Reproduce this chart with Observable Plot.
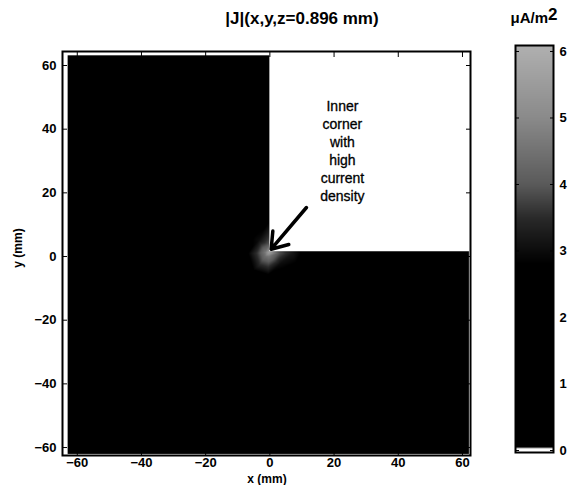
<!DOCTYPE html>
<html>
<head>
<meta charset="utf-8">
<script src="https://cdn.jsdelivr.net/npm/d3@7"></script>
<script src="https://cdn.jsdelivr.net/npm/@observablehq/plot@0.6"></script>
<style>
  html, body { margin: 0; padding: 0; background: #fff; }
  #wrap { position: relative; width: 572px; height: 485px; font-family: "Liberation Sans", Arial, sans-serif; }
  #main { position: absolute; left: 0; top: 0; }
  #cbar { position: absolute; left: 500px; top: 0; }
  .lbl { position: absolute; font-weight: bold; color: #000; white-space: nowrap; line-height: 1; }
</style>
</head>
<body>
<div id="wrap">
  <div id="main"></div>
  <div id="cbar"></div>
  <div class="lbl" id="title" style="left:302px; top:10px; font-size:17px; transform:translateX(-50%);">|J|(x,y,z=0.896 mm)</div>
  <div class="lbl" id="unit" style="left:534px; top:9px; font-size:15px; transform:translateX(-50%);">μA/m<span style="font-size:17px; position:relative; top:-3px;">2</span></div>
  <div class="lbl" id="xlab" style="left:267px; top:473px; font-size:12px; transform:translateX(-50%);">x (mm)</div>
  <div class="lbl" id="ylab" style="left:18px; top:248px; font-size:12px; transform:translate(-50%,-50%) rotate(-90deg);">y (mm)</div>
</div>
<script>
// Tick labels
const xTicks = [-60, -40, -20, 0, 20, 40, 60];
const yTicks = [-60, -40, -20, 0, 20, 40, 60];
const cbarTicks = [0, 1, 2, 3, 4, 5, 6];

const sampleX = [-63, 62, -63, 0, 62, -63, 0, -30, -30, 30, -30, 30, 30, 62, 0,
                 -12, -10, 0, 10, 18, -6, -0.4, -12,
                 -0.3, -1.5, -0.3, -1.5, -0.4, -0.4, -0.4, 3, 7, 11, -4, -7.5, -0.5, -0.5, -3.5, -6, 3, -3.5];
const sampleY = [-62, -62, 63.2, 63.2, 1.5, 0, -62, -30, 30, -30, 63.2, 30, 63.2, 63.2, 30,
                 -2, -10, -12, -8, 1, 16, 20, 10,
                 1.2, 1.3, 0, 0, 4, 8, 12, 1.0, 1.0, 1.0, 1, 1, -3, -6, -3, -5, -2.5, 5];
const sampleJ = [1.2, 1.2, 1.2, 1.2, 1.2, 1.4, 1.2, 1.2, 1.2, 1.2, 1.2, 1.2, 1.2, 1.2, 1.2,
                 2.0, 2.0, 2.0, 2.0, 2.0, 2.0, 2.0, 2.0,
                 5.6, 4.6, 4.6, 4.4, 3.9, 3.2, 2.6, 3.9, 3.2, 2.6, 3.6, 2.6, 3.6, 2.7, 3.3, 2.5, 3.0, 3.0];

// Conductor extent and the empty (no conductor) quadrant
const conductor = {x1: -63, x2: 62, y1: -62, y2: 63.2};
const cutout = [{x1: 0, x2: 62.5, y1: 1.5, y2: 64.4}];

// Annotation
const noteLines = ["Inner", "corner", "with", "high", "current", "density"];
const note = [{x: 22.6, y: 33.3, text: noteLines.join("\n")}];
const arrowData = [{x1: 11.4, y1: 15.4, x2: 0.4, y2: 2.3}];

// Colour map (grey scale, white at zero)
const colorDomain = [0, 0.03, 0.05, 2.8, 3.5, 4, 5, 6];
const colorRange = ["#ffffff", "#ffffff", "#000000", "#000000", "#2a2a2a", "#5a5a5a", "#8a8a8a", "#adadad"];

const samples = sampleX.map((x, i) => ({x, y: sampleY[i], j: sampleJ[i]}));

const colorScale = {type: "linear", domain: colorDomain, range: colorRange, clamp: true};
const tickStyle = {fontSize: 13, fontWeight: "bold", fontFamily: "Liberation Sans, Arial, sans-serif"};

const main = Plot.plot({
  width: 500, height: 485,
  marginLeft: 62, marginRight: 30, marginTop: 51, marginBottom: 30,
  x: {domain: [-64.6, 62.5]},
  y: {domain: [-62.5, 64.4]},
  color: colorScale,
  style: {background: "#fff", color: "#000"},
  marks: [
    Plot.raster(samples, {
      x: "x", y: "y", fill: "j", interpolate: "barycentric",
      x1: conductor.x1, x2: conductor.x2, y1: conductor.y1, y2: conductor.y2
    }),
    Plot.rect(cutout, {x1: "x1", x2: "x2", y1: "y1", y2: "y2", fill: "white"}),
    Plot.text(note, {x: "x", y: "y", text: "text", fontSize: 14, lineHeight: 1.29, fill: "#000",
      fontFamily: "Liberation Sans, Arial, sans-serif", stroke: "#000", strokeWidth: 0.3}),
    Plot.arrow(arrowData, {x1: "x1", y1: "y1", x2: "x2", y2: "y2", stroke: "#000", strokeWidth: 3.5,
      headLength: 13, headAngle: 70}),
    Plot.frame({stroke: "#000", strokeWidth: 2}),
    Plot.axisX(xTicks, {anchor: "bottom", tickSize: -5, tickPadding: 7, label: null, ...tickStyle}),
    Plot.axisX(xTicks, {anchor: "top", tickSize: -5, tickFormat: () => "", label: null}),
    Plot.axisY(yTicks, {anchor: "left", tickSize: -5, tickPadding: 11, label: null, ...tickStyle}),
    Plot.axisY(yTicks, {anchor: "right", tickSize: -5, tickFormat: () => "", label: null})
  ]
});
document.getElementById("main").appendChild(main);

const cbar = Plot.plot({
  width: 72, height: 485,
  marginLeft: 15, marginRight: 19, marginTop: 45, marginBottom: 33,
  x: {domain: [0, 1], axis: null},
  y: {domain: [-0.03, 6.09]},
  color: colorScale,
  style: {background: "#fff", color: "#000"},
  marks: [
    Plot.raster({x1: 0, x2: 1, y1: -0.03, y2: 6.09, fill: (x, y) => y}),
    Plot.frame({stroke: "#000", strokeWidth: 2}),
    Plot.axisY(cbarTicks, {anchor: "right", tickSize: -4, tickPadding: 10, tickFormat: d3.format("d"), label: null, ...tickStyle}),
    Plot.axisY(cbarTicks, {anchor: "left", tickSize: -4, tickFormat: () => "", label: null})
  ]
});
document.getElementById("cbar").appendChild(cbar);
</script>
</body>
</html>
